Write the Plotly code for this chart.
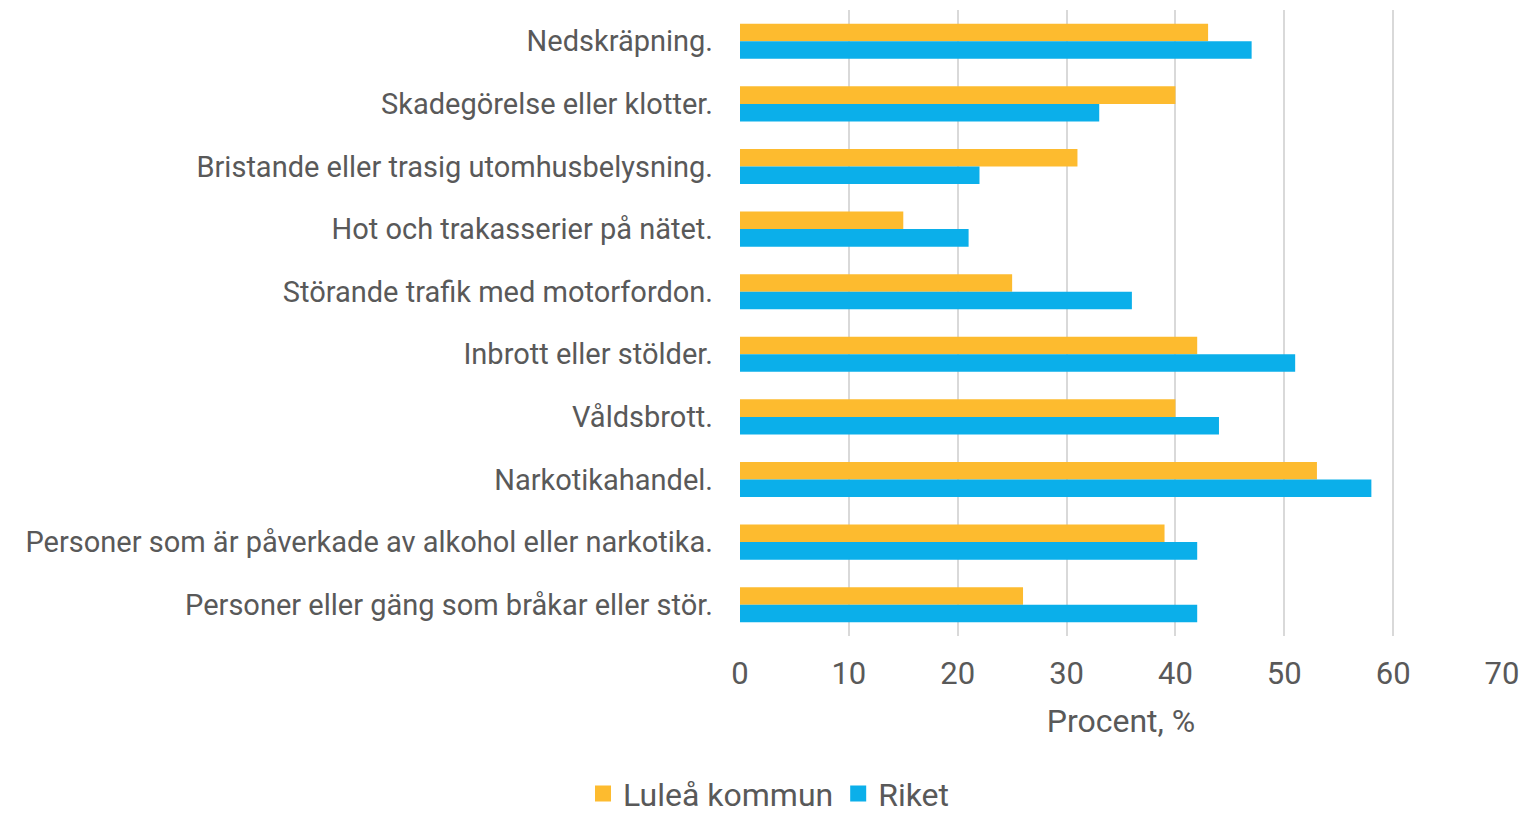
import plotly.graph_objects as go

categories = [
    "Nedskräpning.",
    "Skadegörelse eller klotter.",
    "Bristande eller trasig utomhusbelysning.",
    "Hot och trakasserier på nätet.",
    "Störande trafik med motorfordon.",
    "Inbrott eller stölder.",
    "Våldsbrott.",
    "Narkotikahandel.",
    "Personer som är påverkade av alkohol eller narkotika.",
    "Personer eller gäng som bråkar eller stör.",
]
lulea = [43, 40, 31, 15, 25, 42, 40, 53, 39, 26]
riket = [47, 33, 22, 21, 36, 51, 44, 58, 42, 42]
x_ticks = [0, 10, 20, 30, 40, 50, 60, 70]
series_names = ["Luleå kommun", "Riket"]
series_colors = ["#FDBB2F", "#0BAFEA"]

FONT = "Roboto"
GRAY = "#595959"

fig = go.Figure()
for name, vals, col in zip(series_names, [lulea, riket], series_colors):
    fig.add_trace(go.Bar(y=categories, x=vals, name=name, orientation="h",
                         marker=dict(color=col, line=dict(width=0)), showlegend=False))
# legend entries with square swatches
for name, col in zip(series_names, series_colors):
    fig.add_trace(go.Scatter(x=[None], y=[None], mode="markers", name=name,
                             marker=dict(symbol="square", size=18, color=col),
                             showlegend=True))

fig.update_layout(
    width=1524, height=814,
    margin=dict(l=740, r=22, t=10, b=178, autoexpand=False),
    barmode="group", bargap=0.44, bargroupgap=0,
    plot_bgcolor="white", paper_bgcolor="white",
    font=dict(family=FONT, color=GRAY),
    legend=dict(orientation="h", xref="container", x=0.5046, xanchor="center",
                yref="paper", y=-0.252, yanchor="middle",
                font=dict(size=32, color=GRAY), traceorder="normal",
                itemwidth=30),
    showlegend=True,
)
fig.update_xaxes(range=[0, 70], tickvals=x_ticks, showgrid=True, gridcolor="#D9D9D9",
                 gridwidth=1.5, zeroline=False, showline=False, automargin=False,
                 tickfont=dict(size=31, color=GRAY), ticklabelstandoff=16,
                 title=dict(text="Procent, %", font=dict(size=32, color=GRAY), standoff=18))
fig.update_yaxes(autorange="reversed", showgrid=False, zeroline=False, showline=False,
                 automargin=False,
                 tickfont=dict(size=29, color=GRAY), ticklabelstandoff=26)

fig.write_html(
    "out.html",
    config={"displayModeBar": False},
    post_script="document.body.style.margin='0';document.body.style.overflow='hidden';",
)
